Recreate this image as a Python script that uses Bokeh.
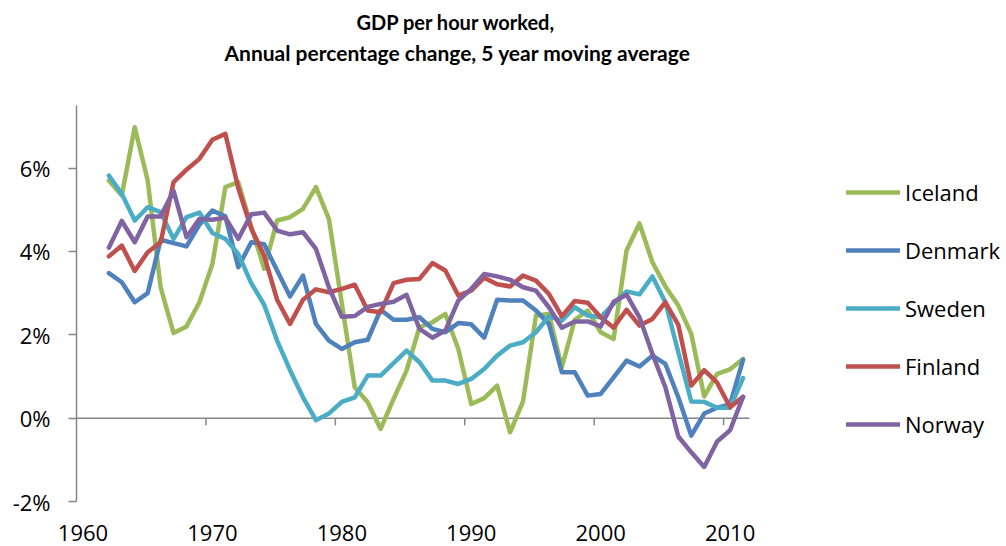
from bokeh.plotting import figure
from bokeh.models import Legend, LegendItem, FixedTicker, PrintfTickFormatter, Title
from bokeh.embed import file_html
from bokeh.resources import INLINE

years = list(range(1962, 2012))

iceland = [5.70, 5.34, 6.98, 5.70, 3.14, 2.04, 2.20, 2.78, 3.70, 5.54,
           5.66, 4.60, 3.58, 4.74, 4.82, 5.02, 5.54, 4.78, 2.75, 0.74,
           0.38, -0.26, 0.46, 1.14, 2.18, 2.30, 2.50, 1.66, 0.34, 0.48,
           0.78, -0.34, 0.40, 2.46, 2.50, 1.22, 2.36, 2.58, 2.06, 1.90,
           4.02, 4.67, 3.74, 3.16, 2.70, 2.02, 0.52, 1.06, 1.17, 1.42]

denmark = [3.48, 3.26, 2.78, 3.00, 4.28, 4.20, 4.12, 4.64, 4.98, 4.84,
           3.62, 4.22, 4.17, 3.54, 2.92, 3.42, 2.26, 1.86, 1.66, 1.82,
           1.88, 2.60, 2.36, 2.36, 2.42, 2.14, 2.06, 2.28, 2.25, 1.93,
           2.84, 2.82, 2.82, 2.58, 2.26, 1.10, 1.10, 0.54, 0.58, 0.98,
           1.38, 1.24, 1.50, 1.30, 0.50, -0.42, 0.11, 0.25, 0.33, 1.40]

sweden = [5.82, 5.38, 4.74, 5.06, 4.94, 4.30, 4.82, 4.93, 4.44, 4.30,
          3.94, 3.24, 2.72, 1.86, 1.15, 0.50, -0.05, 0.11, 0.39, 0.50,
          1.02, 1.02, 1.32, 1.62, 1.34, 0.90, 0.90, 0.82, 0.94, 1.18,
          1.50, 1.74, 1.82, 2.06, 2.44, 2.34, 2.66, 2.46, 2.42, 2.74,
          3.04, 2.97, 3.40, 2.78, 1.58, 0.40, 0.39, 0.25, 0.25, 0.96]

finland = [3.88, 4.14, 3.53, 3.98, 4.22, 5.66, 5.96, 6.22, 6.68, 6.82,
           5.52, 4.55, 3.90, 2.84, 2.26, 2.84, 3.09, 3.02, 3.10, 3.20,
           2.58, 2.54, 3.24, 3.32, 3.34, 3.72, 3.54, 2.94, 3.06, 3.37,
           3.21, 3.16, 3.42, 3.30, 2.98, 2.44, 2.81, 2.77, 2.42, 2.17,
           2.60, 2.22, 2.38, 2.78, 2.24, 0.78, 1.15, 0.85, 0.26, 0.51]

norway = [4.09, 4.73, 4.22, 4.84, 4.84, 5.45, 4.34, 4.78, 4.76, 4.81,
          4.30, 4.89, 4.93, 4.50, 4.41, 4.46, 4.06, 3.14, 2.43, 2.45,
          2.67, 2.74, 2.79, 2.96, 2.14, 1.93, 2.10, 2.82, 3.10, 3.46,
          3.40, 3.32, 3.14, 3.06, 2.66, 2.17, 2.32, 2.32, 2.20, 2.79,
          2.96, 2.42, 1.54, 0.74, -0.44, -0.82, -1.17, -0.56, -0.29, 0.51]

series_names = ["Iceland", "Denmark", "Sweden", "Finland", "Norway"]
series_values = [iceland, denmark, sweden, finland, norway]
colors = ["#9BBB59", "#4F81BD", "#4BACC6", "#C0504D", "#8064A2"]

y_ticks = [-2, 0, 2, 4, 6]
x_ticks = [1960, 1970, 1980, 1990, 2000, 2010]
x_tick_labels = ["1960", "1970", "1980", "1990", "2000", "2010"]
x_boundaries = [1969.5, 1979.5, 1989.5, 1999.5, 2009.5]
title_lines = ["GDP per hour worked,", "Annual percentage change, 5 year moving average"]

AXIS = "#868686"
FONT = "Open Sans"

# layout (pixels)
W, H = 1006, 546
LEFT, TOP, BOTTOM = 76, 105, 45
AXIS_PX = 673            # width of the category axis (1959.5 .. 2011.5)
x_start, x_end = 1959.5, 2011.5
frame_px = W - LEFT
x_frame_end = x_start + (x_end - x_start) * frame_px / AXIS_PX

p = figure(width=W, height=H, x_range=(x_start, x_frame_end), y_range=(-2, 7.5),
           output_backend="svg", toolbar_location=None,
           min_border_left=LEFT, min_border_right=0, min_border_top=TOP, min_border_bottom=BOTTOM)
p.outline_line_color = None
p.xgrid.visible = False
p.ygrid.visible = False

# y axis
p.yaxis.ticker = FixedTicker(ticks=y_ticks)
p.yaxis.formatter = PrintfTickFormatter(format="%d%%")
p.yaxis.axis_line_color = AXIS
p.yaxis.axis_line_width = 1.5
p.yaxis.major_tick_line_color = AXIS
p.yaxis.major_tick_line_width = 1.5
p.yaxis.major_tick_out = 8
p.yaxis.major_tick_in = 0
p.yaxis.minor_tick_line_color = None
p.yaxis.major_label_standoff = 18
p.yaxis.major_label_text_font = FONT
p.yaxis.major_label_text_font_size = "22px"
p.yaxis.major_label_text_color = "#000000"

# x axis (labels only; the axis line sits at 0)
p.xaxis.ticker = FixedTicker(ticks=x_ticks)
p.xaxis.major_label_overrides = {t: l for t, l in zip(x_ticks, x_tick_labels)}
p.xaxis.axis_line_color = None
p.xaxis.major_tick_line_color = None
p.xaxis.minor_tick_line_color = None
p.xaxis.major_tick_out = 0
p.xaxis.major_tick_in = 0
p.xaxis.major_label_standoff = 23
p.xaxis.major_label_text_font = FONT
p.xaxis.major_label_text_font_size = "22px"
p.xaxis.major_label_text_color = "#000000"

# horizontal axis line at 0 with category-boundary tick marks
p.segment(x0=[x_start], y0=[0], x1=[x_end], y1=[0], line_color=AXIS, line_width=1.5, level="underlay")
p.segment(x0=x_boundaries, y0=[0] * len(x_boundaries), x1=x_boundaries,
          y1=[-0.17] * len(x_boundaries), line_color=AXIS, line_width=1.5, level="underlay")

items = []
for name, vals, col in zip(series_names, series_values, colors):
    r = p.line(years, vals, line_color=col, line_width=4.5, line_join="round", line_cap="round")
    items.append(LegendItem(label=name, renderers=[r]))

legend = Legend(items=items, location=(770, 62), orientation="vertical",
                glyph_width=54, glyph_height=22, label_standoff=5, spacing=28,
                padding=0, margin=0, border_line_color=None, background_fill_alpha=0,
                label_text_font=FONT, label_text_font_size="22px", label_text_color="#000000")
p.add_layout(legend)

# titles, listed from the frame outwards: a blank spacer, then line 2, then line 1
p.add_layout(Title(text=" ", text_font_size="20px", standoff=15), "above")
p.add_layout(Title(text=title_lines[1], align="left", offset=148,
                   text_font="Lato", text_font_style="bold", text_font_size="21px",
                   text_color="#000000", standoff=4), "above")
p.add_layout(Title(text=title_lines[0], align="left", offset=280,
                   text_font="Lato", text_font_style="bold", text_font_size="20px",
                   text_color="#000000", standoff=4), "above")

open("out.html", "w").write(file_html(p, INLINE))
